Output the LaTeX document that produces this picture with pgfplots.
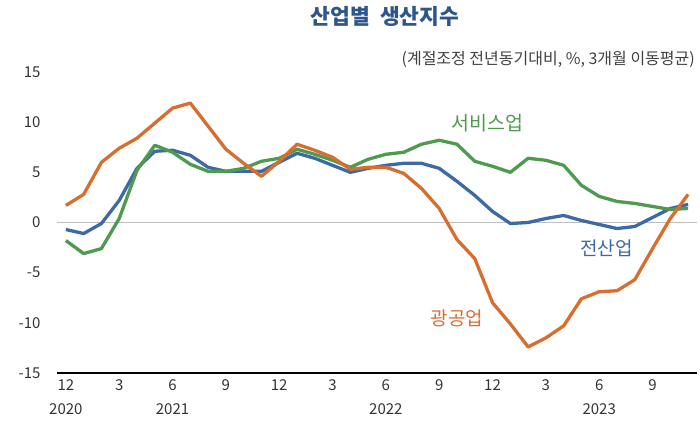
\documentclass[border=0pt]{standalone}
\usepackage{pgfplots}
\pgfplotsset{compat=1.18}
\usepackage{pgfplotstable}
\usepackage{fontspec}
\setmainfont{Noto Sans CJK KR}
\definecolor{cBlue}{RGB}{61,106,165}
\definecolor{cGreen}{RGB}{78,154,78}
\definecolor{cOrange}{RGB}{214,110,48}
\definecolor{cTitle}{RGB}{47,86,140}
\pgfplotstableread{
i total mining service
0 -0.7 1.7 -1.8
1 -1.1 2.8 -3.1
2 -0.1 6.0 -2.6
3 2.2 7.4 0.4
4 5.4 8.4 5.2
5 7.1 9.9 7.7
6 7.2 11.4 7.0
7 6.7 11.9 5.8
8 5.5 9.6 5.1
9 5.1 7.3 5.1
10 5.1 5.9 5.4
11 5.1 4.6 6.1
12 6.0 6.1 6.4
13 6.9 7.8 7.3
14 6.4 7.2 6.8
15 5.7 6.5 6.2
16 5.0 5.3 5.5
17 5.4 5.5 6.3
18 5.7 5.5 6.8
19 5.9 4.9 7.0
20 5.9 3.4 7.8
21 5.4 1.4 8.2
22 4.1 -1.7 7.8
23 2.7 -3.6 6.1
24 1.1 -8.0 5.6
25 -0.1 -10.1 5.0
26 0.0 -12.4 6.4
27 0.4 -11.5 6.2
28 0.7 -10.3 5.7
29 0.2 -7.6 3.7
30 -0.2 -6.9 2.6
31 -0.6 -6.8 2.1
32 -0.4 -5.7 1.9
33 0.5 -2.6 1.6
34 1.4 0.4 1.3
35 1.8 2.8 1.4
}\datatable
\begin{document}
\begin{tikzpicture}
\useasboundingbox (-57pt,-53pt) rectangle (643pt,373pt);
\begin{axis}[
  at={(0pt,0pt)}, anchor=south west,
  scale only axis, width=640pt, height=301pt,
  xmin=-0.5, xmax=35.5, ymin=-15, ymax=15,
  axis x line*=bottom, axis y line*=left,
  x axis line style={black, line width=2pt},
  y axis line style={draw=none},
  major tick length=0pt,
  xtick={0,3,...,33},
  xticklabels={{12\\2020},3,{6\\2021},9,12,3,{6\\2022},9,12,3,{6\\2023},9},
  xticklabel style={align=center, anchor=north, yshift=-3pt, font=\fontsize{15}{24}\selectfont, text=black!80},
  ytick={-15,-10,...,15},
  yticklabel style={anchor=east, xshift=-13pt, font=\fontsize{15}{18}\selectfont, text=black!80},
  /pgf/number format/assume math mode=true,
  clip=false,
]
\draw[black!25, line width=1.5pt] (axis cs:-0.5,0) -- (axis cs:35.5,0);
\addplot[cBlue, line width=3.3pt, line join=round] table[x=i, y=total] {\datatable};
\addplot[cGreen, line width=3.3pt, line join=round] table[x=i, y=service] {\datatable};
\addplot[cOrange, line width=3.3pt, line join=round] table[x=i, y=mining] {\datatable};
\node[text=cGreen, font=\fontsize{19.5}{21}\selectfont] at (axis cs:23.7,9.9) {서비스업};
\node[text=cBlue, font=\fontsize{19}{21}\selectfont] at (axis cs:30.4,-2.6) {전산업};
\node[text=cOrange, font=\fontsize{19}{21}\selectfont] at (axis cs:22.0,-9.6) {광공업};
\end{axis}
\node[text=cTitle, font=\fontsize{21.5}{24}\selectfont\bfseries] at (328pt,357pt) {산업별\ \ 생산지수};
\node[anchor=east, text=black!75, font=\fontsize{16}{18}\selectfont, inner sep=0pt] at (638pt,314pt) {(계절조정 전년동기대비, \%, 3개월 이동평균)};
\end{tikzpicture}
\end{document}
